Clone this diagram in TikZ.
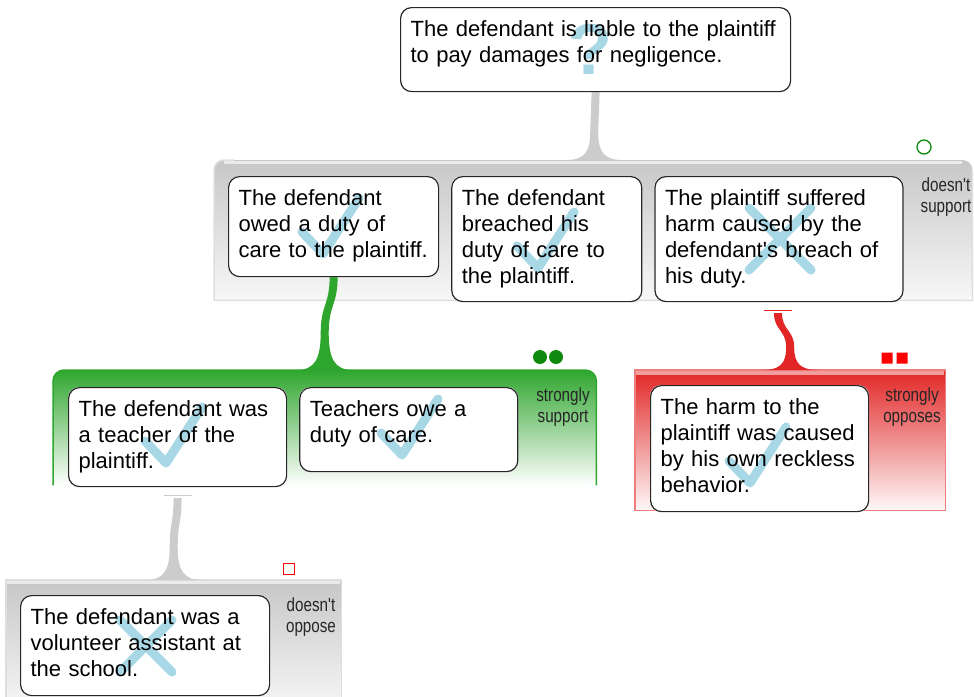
\documentclass[tikz,border=0pt]{standalone}
\usepackage{fontspec}
\setmainfont{Liberation Sans}
\newfontfamily\narrowfont[FakeStretch=0.8]{Liberation Sans}
\usetikzlibrary{calc, positioning, backgrounds}
\definecolor{stemgray}{HTML}{CCCCCC}
\definecolor{supgreen}{HTML}{2EA62E}
\definecolor{dotgreen}{HTML}{0F8A0F}
\definecolor{oppred}{HTML}{E22626}
\definecolor{markblue}{HTML}{A8D8E6}
\pgfdeclarelayer{groups}
\pgfdeclarelayer{boxes}
\pgfdeclarelayer{marks}
\pgfsetlayers{groups,boxes,marks,main}

% trumpet shaped link: from point, to point, colour
\newcommand{\flare}[3]{%
  \fill[#3] let \p1=(#1), \p2=(#2) in
    ({\x1-4pt},\y1)
    .. controls ({\x1-4pt},{0.7*\y1+0.3*\y2}) and ({\x2-4pt},{0.7*\y1+0.3*\y2}) .. ({\x2-4pt},{0.4*\y1+0.6*\y2})
    .. controls ({\x2-4pt},{0.12*\y1+0.88*\y2}) and ({\x2-10pt},\y2) .. ({\x2-28pt},\y2)
    -- ({\x2+28pt},\y2)
    .. controls ({\x2+10pt},\y2) and ({\x2+4pt},{0.12*\y1+0.88*\y2}) .. ({\x2+4pt},{0.4*\y1+0.6*\y2})
    .. controls ({\x2+4pt},{0.7*\y1+0.3*\y2}) and ({\x1+4pt},{0.7*\y1+0.3*\y2}) .. ({\x1+4pt},\y1)
    -- cycle;}
\newcommand{\tickmk}[1]{\draw[markline] ($(#1)+(-21,-22)$) -- (#1) -- ++(36,-56);}
\newcommand{\crossmk}[2]{\draw[markline] ($(#1)+(-#2,-#2)$) -- ($(#1)+(#2,#2)$)
  ($(#1)+(#2,-#2)$) -- ($(#1)+(-#2,#2)$);}

\begin{document}
\begin{tikzpicture}[x=1pt, y=-1pt, font=\fontsize{22}{26}\selectfont]
	\tikzstyle{stmt}=[rectangle, draw=black!85, line width=1.2pt, rounded corners=11pt, anchor=north west, inner xsep=10pt, inner ysep=0pt, align=left, text height=29pt]
	\tikzstyle{grp}=[rectangle, anchor=north west, inner sep=0pt]
	\tikzstyle{grplab}=[font=\narrowfont\fontsize{19}{21}\selectfont, align=center, text=black!85]
	\tikzstyle{markline}=[markblue, line width=9pt, line cap=round, line join=round]
	\useasboundingbox (0,0) rectangle (974,696);

	\node[stmt, text width=370pt, text depth=55pt] (claim) at (400,7) {The defendant is liable to the plaintiff\\to pay damages for negligence.};
	\node[stmt, text width=190pt, text depth=71pt] (A) at (228,176) {The defendant\\owed a duty of\\care to the plaintiff.};
	\node[stmt, text width=170pt, text depth=96pt, right=12pt of A.north east, anchor=north west] (B) {The defendant\\breached his\\duty of care to\\the plaintiff.};
	\node[stmt, text width=228pt, text depth=96pt, right=12pt of B.north east, anchor=north west] (C) {The plaintiff suffered\\harm caused by the\\defendant\textquotesingle s breach of\\his duty.};
	\node[stmt, text width=198pt, text depth=70pt] (D) at (68,387) {The defendant was\\a teacher of the\\plaintiff.};
	\node[stmt, text width=198pt, text depth=55pt, right=12pt of D.north east, anchor=north west] (E) {Teachers owe a\\duty of care.};
	\node[stmt, text width=198pt, text depth=97pt] (F) at (650,385) {The harm to the\\plaintiff was caused\\by his own reckless\\behavior.};
	\node[stmt, text width=229pt, text depth=71pt] (G) at (20,595) {The defendant was a\\volunteer assistant at\\the school.};

	% groups
	\node[grp, minimum width=760pt, minimum height=140pt] (gTop) at (214,160) {};
	\node[grp, minimum width=543pt, minimum height=115pt] (gSup) at (53,370) {};
	\node[grp, minimum width=310pt, minimum height=140pt] (gOpp) at (635,370) {};
	\node[grp, minimum width=335pt, minimum height=130pt] (gLow) at (6,580) {};
	\node[grplab] (labTop) at (946,197) {doesn't\\support};
	\node[grplab] (labSup) at (563,407) {strongly\\support};
	\node[grplab] (labOpp) at (912,407) {strongly\\opposes};
	\node[grplab] (labLow) at (311,617) {doesn't\\oppose};

	\begin{pgfonlayer}{groups}
		\shade[top color=black!22, bottom color=black!3] (gTop.south west) [rounded corners=10pt] -- (gTop.north west) -- ($(gTop.north east)+(-2,0)$) -- ($(gTop.south east)+(-2,0)$) [sharp corners] -- cycle;
		\draw[black!13, line width=1.5pt] ($(gTop.north east)+(-2,12)$) -- ($(gTop.south east)+(-2,0)$) -- (gTop.south west) [rounded corners=10pt] -- (gTop.north west) -- ++(20,0);
		\draw[black!8, line width=3pt] ($(gTop.north west)+(10,2)$) -- ($(gTop.north east)+(-12,2)$);
		\shade[top color=supgreen, middle color=supgreen!45, bottom color=white] (gSup.south west) [rounded corners=11pt] -- (gSup.north west) -- (gSup.north east) -- (gSup.south east) [sharp corners] -- cycle;
		\draw[supgreen, line width=1.5pt] (gSup.south west) [rounded corners=11pt] -- (gSup.north west) -- (gSup.north east) -- (gSup.south east);
		\shade[top color=oppred, middle color=oppred!45, bottom color=oppred!3] (gOpp.south west) rectangle (gOpp.north east);
		\draw[oppred!60, line width=1.5pt] (gOpp.south west) rectangle (gOpp.north east);
		\draw[oppred!45, line width=4pt] ($(gOpp.north west)+(1,3)$) -- ($(gOpp.north east)+(-1,3)$);
		\shade[top color=black!22, bottom color=black!3] (gLow.south west) rectangle (gLow.north east);
		\draw[black!13, line width=1.5pt] (gLow.south west) -- (gLow.north west) -- (gLow.north east) -- (gLow.south east);
		\draw[black!8, line width=3pt] ($(gLow.north west)+(1,2)$) -- ($(gLow.north east)+(-1,2)$);

		% links
		\flare{claim.south}{gTop.north}{stemgray}
		\flare{A.south}{gSup.north}{supgreen}
		\coordinate (cBar) at ($(C.south)+(-1,8)$);
		\draw[oppred, line width=1.2pt] ($(cBar)+(-14,0)$) -- ($(cBar)+(14,0)$);
		\flare{$(cBar)+(0,3)$}{gOpp.north}{oppred}
		\coordinate (dBar) at ($(D.south)+(0,8)$);
		\draw[stemgray, line width=1.2pt] ($(dBar)+(-14,0)$) -- ($(dBar)+(14,0)$);
		\flare{$(dBar)+(0,3)$}{gLow.north}{stemgray}
	\end{pgfonlayer}

	\begin{pgfonlayer}{boxes}
		\foreach \n in {claim,A,B,C,D,E,F,G}
			\fill[white, rounded corners=11pt] (\n.south west) rectangle (\n.north east);
	\end{pgfonlayer}

	\begin{pgfonlayer}{marks}
		\node[text=markblue, font=\bfseries\fontsize{72}{72}\selectfont] (qmark) at (590,49) {?};
		\tickmk{323,254}
		\tickmk{538,268}
		\crossmk{780,239}{31}
		\tickmk{166,463}
		\tickmk{402,455}
		\tickmk{750,483}
		\crossmk{146,646}{26}
	\end{pgfonlayer}

	% strength markers
	\draw[dotgreen, line width=1.3pt] (924,147) circle (7pt);
	\fill[dotgreen] (540,357) circle (7pt) (556,357) circle (7pt);
	\fill[red] (881.5,352.5) rectangle ++(11,11) (896.5,352.5) rectangle ++(11,11);
	\draw[red, line width=1.2pt] (283.5,563.5) rectangle ++(11,11);
\end{tikzpicture}
\end{document}
